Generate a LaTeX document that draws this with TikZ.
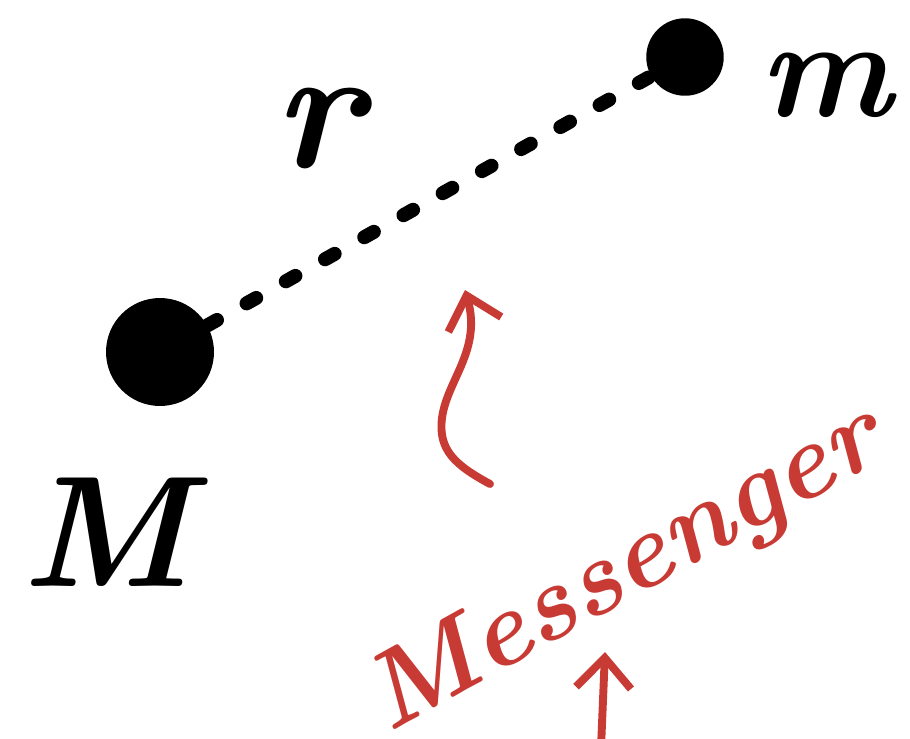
\documentclass[tikz,border=0pt]{standalone}
\usetikzlibrary{arrows.meta}
\definecolor{rosso}{RGB}{200,58,52}
\begin{document}
\begin{tikzpicture}[x=0.02cm,y=-0.02cm,
    massa/.style={circle,fill=black,inner sep=0pt},
    lettera/.style={font=\fontsize{#1}{#1}\selectfont\bfseries\itshape},
    freccia/.style={rosso,line width=4.5pt,line cap=round,line join=round,
        -{Straight Barb[length=0.6cm,width=1.1cm]}}]
    \useasboundingbox (0,0) rectangle (910,738);

    % masse e distanza
    \node[massa,minimum size=2.16cm] (M) at (160,352) {};
    \node[massa,minimum size=1.55cm] (m) at (685,57) {};
    \draw[line width=8pt,line cap=round,dash pattern=on 0.22cm off 0.68cm] (M) -- (m);
    \node[lettera=100] (r) at (318,128) {r};
    \node[lettera=80] (mlab) at (826,85) {m};
    \node[lettera=90] (Mlab) at (106,532) {M};

    % messaggero
    \coordinate (coda) at (490,484);
    \coordinate (punta) at (465,290);
    \draw[freccia] (coda) .. controls (455,465) and (438,450) .. (442,418)
        .. controls (447,380) and (482,350) .. (punta);
    \node[rosso,rotate=29,lettera=61] (msg) at (626,572) {Messenger};
    \coordinate (coda2) at (601,748);
    \coordinate (punta2) at (605,652);
    \draw[freccia] (coda2) -- (punta2);
\end{tikzpicture}
\end{document}
